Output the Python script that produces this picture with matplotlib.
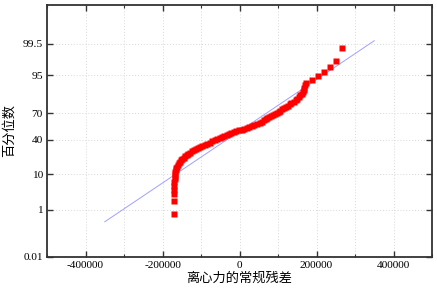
import numpy as np
import matplotlib
matplotlib.use("Agg")
import matplotlib.pyplot as plt
from matplotlib.ticker import MultipleLocator, FixedLocator
from statistics import NormalDist

# sorted residuals
residuals = [
    -171400, -171400, -170900, -170400, -169900, -169400, -168800, -168300,
    -167500, -166800, -165700, -164400, -162900, -161000, -158400, -155800,
    -153200, -149400, -145500, -141600, -137700, -133800, -129900, -124700,
    -119500, -114300, -109100, -103900, -97400, -90900, -84400, -77900,
    -71400, -64900, -58400, -51900, -46800, -40300, -33800, -28600,
    -22100, -15600, -9100, -2600, 5200, 11700, 18200, 24700,
    31200, 37700, 44200, 51900, 57100, 62300, 67500, 71400,
    76600, 80500, 85700, 90900, 96100, 101300, 105200, 109100,
    114300, 119500, 124700, 129900, 135000, 140300, 145500, 149400,
    153200, 157100, 161000, 163600, 166200, 167500, 168800, 173200,
    187800, 202600, 218200, 233800, 249400, 264900,
]
line_mu = 1000
line_sd = 131000
line_x = [-350000, 350000]

y_ticks = [0.01, 1, 10, 40, 70, 95, 99.5]
y_labels = ["0.01", "1", "10", "40", "70", "95", "99.5"]
x_ticks = [-400000, -200000, 0, 200000, 400000]

nd = NormalDist()

def fwd(y):
    y = np.asarray(y, dtype=float)
    flat = []
    for v in y.ravel():
        if not np.isfinite(v):
            flat.append(np.nan)
        else:
            p = min(max(v / 100.0, 1e-12), 1 - 1e-12)
            flat.append(nd.inv_cdf(p))
    return np.array(flat).reshape(y.shape)

def inv(z):
    z = np.asarray(z, dtype=float)
    flat = [nd.cdf(v) * 100.0 if np.isfinite(v) else np.nan for v in z.ravel()]
    return np.array(flat).reshape(z.shape)

x = np.sort(np.array(residuals, dtype=float))
n = len(x)
ranks = np.arange(1, n + 1)
pct = (ranks - 0.375) / (n + 0.25) * 100

lx = np.linspace(line_x[0], line_x[1], 200)
ly = np.array([nd.cdf((v - line_mu) / line_sd) * 100 for v in lx])

fig = plt.figure(figsize=(4.37, 2.93), dpi=100)
ax = fig.add_axes([0.1076, 0.1229, 0.8810, 0.8601])
ax.set_yscale("function", functions=(fwd, inv))

ax.plot(lx, ly, color="#a0a0ff", lw=0.7, zorder=2)
ax.plot(x, pct, ls="none", marker="s", ms=4.2, color="red", mec="none", zorder=3)

ax.set_xlim(-500000, 500000)
ax.set_ylim(0.01, 99.99)
ax.xaxis.set_major_locator(FixedLocator(x_ticks))
ax.xaxis.set_minor_locator(MultipleLocator(100000))
ax.yaxis.set_major_locator(FixedLocator(y_ticks))
ax.yaxis.set_minor_locator(FixedLocator([]))
ax.set_yticklabels(y_labels)
ax.set_xticklabels([str(v) for v in x_ticks])

for lab in ax.get_xticklabels() + ax.get_yticklabels():
    lab.set_family(["Liberation Serif", "DejaVu Serif"])
    lab.set_fontsize(8.2)

ax.tick_params(which="major", direction="in", length=4, width=1, top=True, right=True, color="#333333", pad=3)
ax.tick_params(which="minor", direction="in", length=2.5, width=0.8, top=True, right=True, color="#333333")

ax.grid(True, which="both", axis="x", ls=(0, (1, 2)), color="#d8d8d8", lw=0.7)
ax.grid(True, which="major", axis="y", ls=(0, (1, 2)), color="#d8d8d8", lw=0.7)
ax.set_axisbelow(True)

for s in ax.spines.values():
    s.set_linewidth(1.3)
    s.set_color("#333333")

ax.set_xlabel("离心力的常规残差", fontsize=9.5, family=["Noto Sans CJK SC", "DejaVu Sans"], labelpad=1)
ax.set_ylabel("百分位数", fontsize=9.5, family=["Noto Sans CJK SC", "DejaVu Sans"], labelpad=5)

fig.savefig("out.png", dpi=100)
